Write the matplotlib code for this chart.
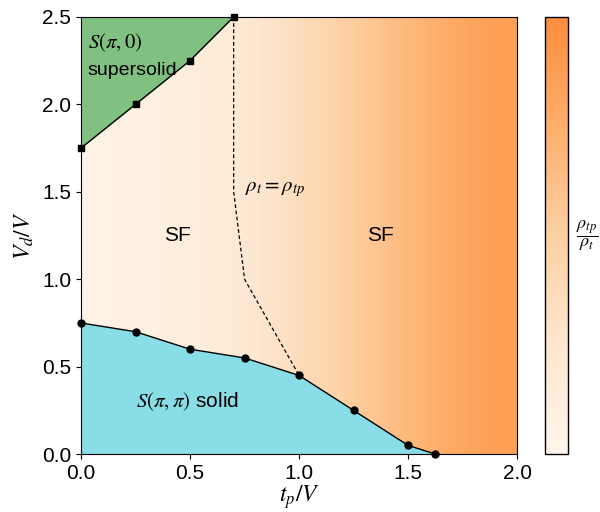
import numpy as np
import matplotlib
matplotlib.use("Agg")
import matplotlib.pyplot as plt
from matplotlib.colors import LinearSegmentedColormap, Normalize

plt.rcParams['font.family'] = ['Liberation Sans', 'DejaVu Sans']
plt.rcParams['mathtext.fontset'] = 'stix'

# phase boundary S(pi,0) supersolid / SF
ss_x = [0.0, 0.25, 0.5, 0.7]
ss_y = [1.75, 2.0, 2.25, 2.5]

# phase boundary S(pi,pi) solid / SF
sol_x = [0.0, 0.25, 0.5, 0.75, 1.0, 1.25, 1.5, 1.625]
sol_y = [0.75, 0.7, 0.6, 0.55, 0.45, 0.25, 0.05, 0.0]

# rho_t = rho_tp crossover line
cr_x = [0.7, 0.7, 0.75, 1.0]
cr_y = [2.5, 1.5, 1.0, 0.45]

# rho_tp / rho_t along t_p/V (background shading)
bg_x = [0.0, 0.25, 0.5, 0.75, 1.0, 1.25, 1.5, 1.75, 2.0]
bg_val = [0.05, 0.09, 0.14, 0.22, 0.35, 0.5, 0.64, 0.76, 0.86]

base = plt.get_cmap('Oranges')
cmap = LinearSegmentedColormap.from_list('or_half', base(np.linspace(0.0, 0.5, 256)))
norm = Normalize(0, 1)

fig = plt.figure(figsize=(6.0, 5.12), dpi=100)
ax = fig.add_axes([0.135, 0.113, 0.727, 0.854])
cax = fig.add_axes([0.908, 0.113, 0.038, 0.854])

im = ax.imshow([bg_val], extent=[bg_x[0], bg_x[-1], 0, 2.5], aspect='auto',
               cmap=cmap, norm=norm, interpolation='bilinear', origin='lower', zorder=0)

ax.fill_between(ss_x, ss_y, 2.5, color='#80c080', zorder=1, lw=0)
ax.fill_between(sol_x, sol_y, 0, color='#89dde6', zorder=1, lw=0)

ax.plot(ss_x, ss_y, 'k-', lw=1, marker='s', ms=5, zorder=3, clip_on=False)
ax.plot(sol_x, sol_y, 'k-', lw=1, marker='o', ms=5, zorder=3, clip_on=False)
ax.plot(cr_x, cr_y, 'k--', lw=0.9, dashes=(3, 2), zorder=2)

ax.text(0.03, 2.32, r'$S(\pi,0)$', fontsize=15)
ax.text(0.03, 2.17, 'supersolid', fontsize=14)
ax.text(0.75, 1.5, r'$\rho_t = \rho_{tp}$', fontsize=15)
ax.text(0.44, 1.25, 'SF', fontsize=15, ha='center', va='center')
ax.text(1.375, 1.25, 'SF', fontsize=15, ha='center', va='center')
ax.text(0.25, 0.27, r'$S(\pi,\pi)$ solid', fontsize=15)

ax.set_xlim(0, 2)
ax.set_ylim(0, 2.5)
ax.set_xticks([0, 0.5, 1.0, 1.5, 2.0])
ax.set_yticks([0, 0.5, 1.0, 1.5, 2.0, 2.5])
ax.tick_params(labelsize=15)
ax.set_xlabel(r'$t_p/V$', fontsize=17, labelpad=0)
ax.set_ylabel(r'$V_d/V$', fontsize=17)

cb = fig.colorbar(im, cax=cax)
cb.set_ticks([])
cb.outline.set_linewidth(1)
cb.set_label(r'$\dfrac{\rho_{tp}}{\rho_t}$', rotation=0, fontsize=13, labelpad=14, va='center')

fig.savefig('out.png', dpi=100)
